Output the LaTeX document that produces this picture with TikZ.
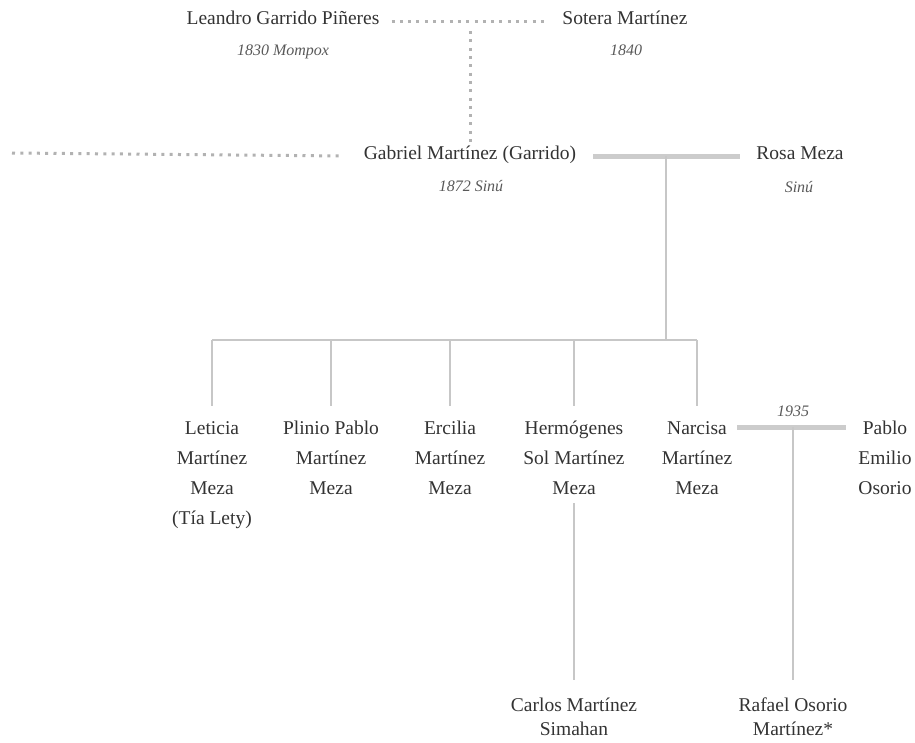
\documentclass[tikz,border=0pt]{standalone}
\usepackage{fontspec}
\setmainfont{Liberation Serif}
\usetikzlibrary{calc}
\begin{document}
\begin{tikzpicture}[x=1pt,y=-1pt,
  persontxt/.style={text=black!80,font=\fontsize{19.5}{30}\selectfont,inner sep=0pt},
  person/.style={persontxt,text height=0.77em,text depth=0.1em,anchor=base},
  datetxt/.style={text=black!65,font=\fontsize{16}{20}\selectfont\itshape,inner sep=0pt,anchor=base},
  kid/.style={persontxt,align=center,anchor=north},
  couple/.style={draw=black!20,line width=5pt},
  descent/.style={draw=black!22,line width=1.6pt},
  dotline/.style={draw=black!30,line width=3pt,dash pattern=on 3pt off 5.3pt}
]
\useasboundingbox (0,0) rectangle (915,742);
% generation 1
\node[person] (leandro) at (283,24.5) {Leandro Garrido Piñeres};
\node[datetxt] (leandroD) at (283,55.5) {1830 Mompox};
\node[person] (sotera) at (625,24.5) {Sotera Martínez};
\node[datetxt] (soteraD) at (626,55) {1840};
% generation 2
\node[person] (gabriel) at (470,159.5) {Gabriel Martínez (Garrido)};
\node[datetxt] (gabrielD) at (471,191) {1872 Sinú};
\node[person] (rosa) at (800,159.5) {Rosa Meza};
\node[datetxt] (rosaD) at (799,192) {Sinú};
% generation 3
\node[kid] (leticia) at (212,421) {Leticia\\Martínez\\Meza\\(Tía Lety)};
\node[kid] (plinio) at (331,421) {Plinio Pablo\\Martínez\\Meza};
\node[kid] (ercilia) at (450,421) {Ercilia\\Martínez\\Meza};
\node[kid] (hermogenes) at (574,421) {Hermógenes\\Sol Martínez\\Meza};
\node[kid] (narcisa) at (697,421) {Narcisa\\Martínez\\Meza};
\node[kid] (pablo) at (885,421) {Pablo\\Emilio\\Osorio};
\node[datetxt] (year) at (793,416) {1935};
% generation 4
\node[kid] (carlos) at (574,698) {Carlos Martínez\\[-6pt]Simahan};
\node[kid] (rafael) at (793,698) {Rafael Osorio\\[-6pt]Martínez*};
% helper coordinates
\coordinate (leftend) at (12,153);
\coordinate (bar) at (0,340);
% connectors
\draw[dotline,shorten <=12pt,shorten >=13pt] (leandro.east) -- (sotera.west);
\draw[dotline,shorten <=10pt,shorten >=6pt] (gabriel.north |- leandro.east) -- (gabriel.north);
\draw[dotline,shorten >=20pt] (leftend) -- (gabriel.west);
\draw[couple,shorten <=17pt,shorten >=16pt] (gabriel.east) -- (rosa.west);
\coordinate (gr) at ($(gabriel.east)!0.5!(rosa.west)$);
\draw[descent] (gr) -- (gr |- bar);
\draw[descent] (leticia.north |- bar) -- (narcisa.north |- bar);
\foreach \c in {leticia,plinio,ercilia,hermogenes,narcisa}
  \draw[descent,shorten >=15pt] (\c.north |- bar) -- (\c.north);
\coordinate (npa) at ([yshift=-6pt]narcisa.north east);
\coordinate (npb) at ([yshift=-6pt]pablo.north west);
\draw[couple,shorten <=5pt,shorten >=12pt] (npa) -- (npb);
\draw[descent,shorten >=18pt] (rafael.north |- npa) -- (rafael.north);
\draw[descent,shorten <=8pt,shorten >=18pt] (hermogenes.south) -- (carlos.north);
\end{tikzpicture}
\end{document}
